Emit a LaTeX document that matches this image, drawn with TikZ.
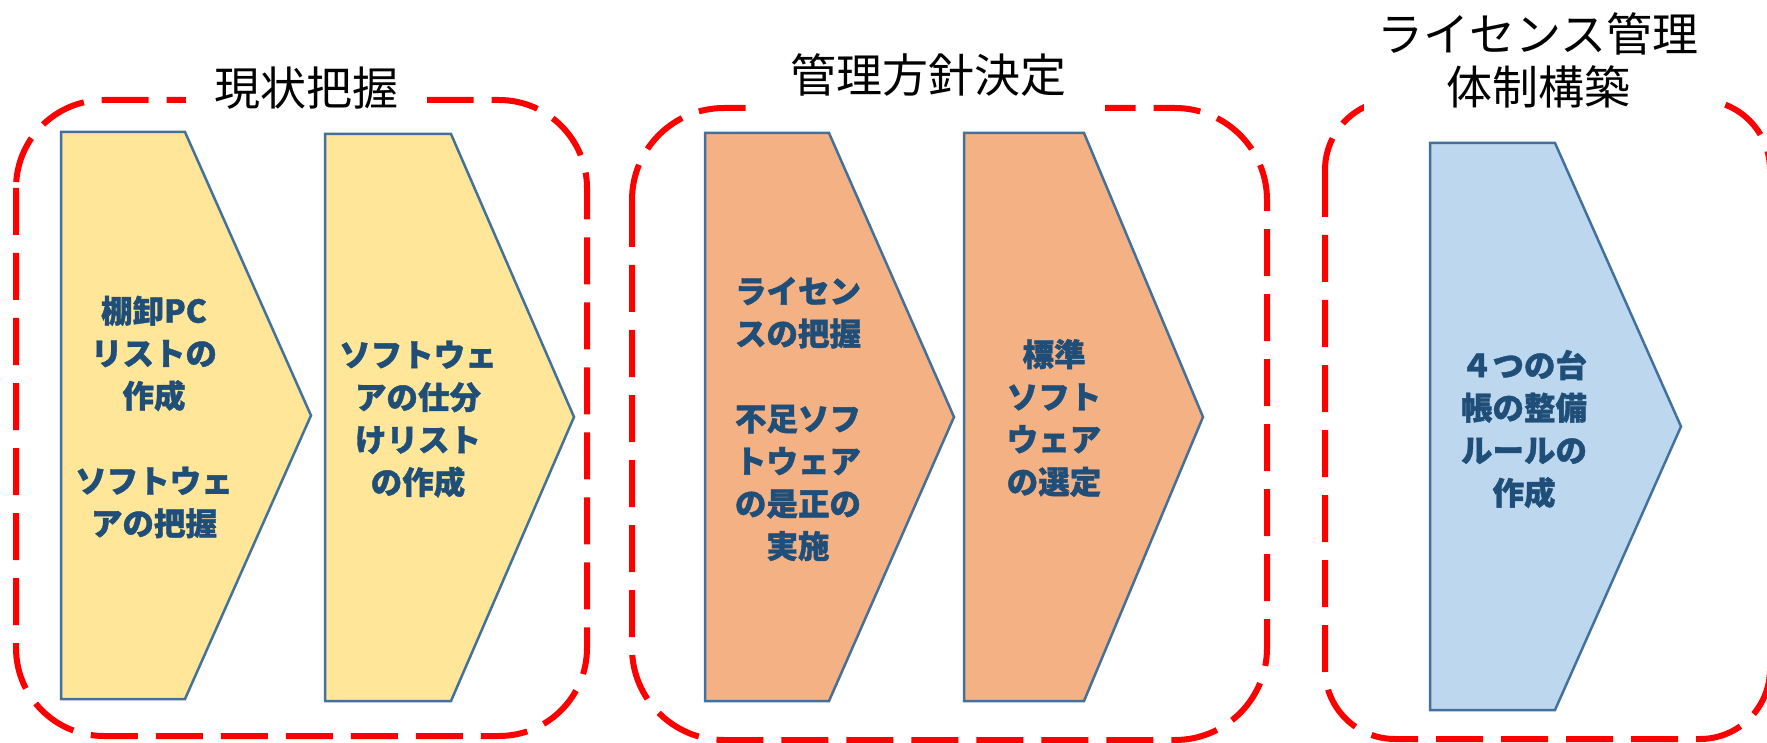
\documentclass[tikz,border=0pt]{standalone}
\usepackage{fontspec}
\newfontfamily\jp{Noto Sans CJK JP}[BoldFeatures={FakeBold=1.2}]
\definecolor{pyellow}{HTML}{FFE699}
\definecolor{porange}{HTML}{F4B183}
\definecolor{pblue}{HTML}{BDD7EE}
\definecolor{pedge}{HTML}{41719C}
\definecolor{ptext}{HTML}{1F4E79}
\begin{document}
\begin{tikzpicture}[x=1pt,y=-1pt,
  groupbox/.style={draw=red, line width=6pt, dash pattern=on 47pt off 18pt},
  pent/.style={draw=pedge, line width=2.5pt, line join=miter},
  steptext/.style={align=center, text=ptext, font=\jp\bfseries\fontsize{31.5}{42.5}\selectfont, inner sep=0pt},
  titletext/.style={fill=white, text=black, font=\jp\fontsize{46}{53}\selectfont, align=center, inner sep=0pt}]
\useasboundingbox (0,0) rectangle (1767,743);
% group frames
\draw[groupbox, rounded corners=88pt] (16,100) rectangle (587,736);
\draw[groupbox, rounded corners=92pt] (632,108) rectangle (1267,740);
\draw[groupbox, rounded corners=70pt] (1325,100) rectangle (1770,739);
% titles
\node[titletext, minimum width=241pt, minimum height=60pt] (title1) at (306,88) {現状把握};
\node[titletext, minimum width=353pt, minimum height=80pt] (title2) at (928,75) {管理方針決定};
\node[titletext, minimum width=349pt, minimum height=112pt] (title3) at (1538,60.5) {ライセンス管理\\体制構築};
% pentagon arrows
\draw[pent, fill=pyellow] (61,132) -- (185,132) -- (311,415.5) -- (185,699) -- (61,699) -- cycle;
\draw[pent, fill=pyellow] (325,134) -- (451,134) -- (574,417) -- (451,701) -- (325,701) -- cycle;
\draw[pent, fill=porange] (705,133) -- (829,133) -- (954,417) -- (829,701) -- (705,701) -- cycle;
\draw[pent, fill=porange] (964,133) -- (1084,133) -- (1203,417) -- (1084,701) -- (964,701) -- cycle;
\draw[pent, fill=pblue] (1430,143) -- (1555,143) -- (1681,426.5) -- (1555,710) -- (1430,710) -- cycle;
% step texts
\node[steptext] (t1) at (154,417) {棚卸PC\\リストの\\作成\\\mbox{}\\ソフトウェ\\アの把握};
\node[steptext] (t2) at (418,419) {ソフトウェ\\アの仕分\\けリスト\\の作成};
\node[steptext] (t3) at (798,419) {ライセン\\スの把握\\\mbox{}\\不足ソフ\\トウェア\\の是正の\\実施};
\node[steptext] (t4) at (1054,418) {標準\\ソフト\\ウェア\\の選定};
\node[steptext] (t5) at (1524,429) {４つの台\\帳の整備\\ルールの\\作成};
\end{tikzpicture}
\end{document}
